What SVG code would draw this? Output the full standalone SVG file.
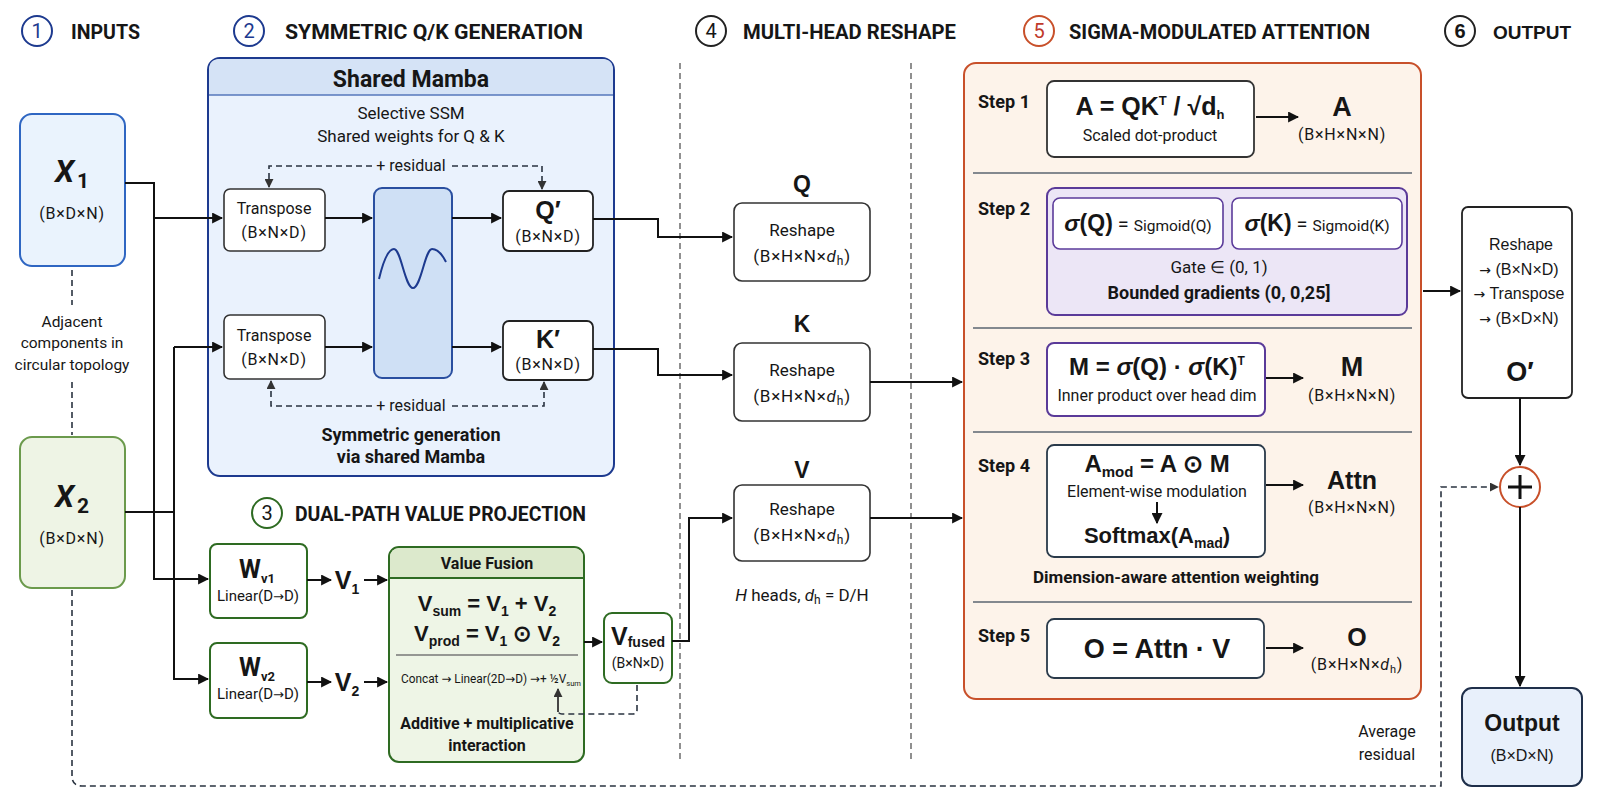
<svg xmlns="http://www.w3.org/2000/svg" width="1600" height="800" viewBox="0 0 1600 800">
<defs>
<style>
text{fill:#161616;font-family:Roboto,"Liberation Sans",Arial,sans-serif}
.a{font-family:"Liberation Sans",Arial,sans-serif}
.ar{font-family:"DejaVu Sans",sans-serif}
.b{font-weight:700}
.i{font-style:italic}
.c{text-anchor:middle}
.hdr{font-size:21px;font-weight:700}
.num{font-size:20px;text-anchor:middle}
.hc{fill:#fff;stroke-width:2}
.ln{stroke:#111;stroke-width:2;fill:none}
.dl{stroke:#2a3340;stroke-width:1.6;fill:none;stroke-dasharray:6 4}
.div{stroke:#555;stroke-width:1.3;fill:none;stroke-dasharray:6 4}
.wb{fill:#fff;stroke:#333;stroke-width:1.6}
.gb{fill:#fff;stroke:#2e6b22;stroke-width:2}
.sep{stroke:#5a6470;stroke-width:1.5}
.t14{font-size:14px}
.t15{font-size:15px}
.t16{font-size:16px}
.t17{font-size:17px}
.dim{font-size:16px;letter-spacing:0.8px}
.st{font-size:19px;font-weight:700}
</style>
<marker id="ah" viewBox="0 0 10 10" refX="9" refY="5" markerWidth="11" markerHeight="11" markerUnits="userSpaceOnUse" orient="auto"><path d="M0,0 L10,5 L0,10 z" fill="#111"/></marker>
<marker id="as" viewBox="0 0 10 10" refX="9" refY="5" markerWidth="9" markerHeight="9" markerUnits="userSpaceOnUse" orient="auto"><path d="M0,0 L10,5 L0,10 z" fill="#333"/></marker>
</defs>
<rect width="1600" height="800" fill="#fff"/>

<!-- headers -->
<g id="header1"><circle cx="37" cy="31" r="15" class="hc" stroke="#1d3a8f"/><text x="37" y="38" class="num" style="fill:#1d3a8f">1</text><text x="71" y="39" class="hdr" textLength="69" lengthAdjust="spacingAndGlyphs">INPUTS</text></g>
<g id="header2"><circle cx="249" cy="31" r="15" class="hc" stroke="#1d3a8f"/><text x="249" y="38" class="num" style="fill:#1d3a8f">2</text><text x="285" y="39" class="hdr" textLength="298" lengthAdjust="spacingAndGlyphs">SYMMETRIC Q/K GENERATION</text></g>
<g id="header3"><circle cx="267" cy="513" r="15" class="hc" stroke="#2e6b22"/><text x="267" y="520" class="num">3</text><text x="295" y="521" class="hdr" textLength="291" lengthAdjust="spacingAndGlyphs">DUAL-PATH VALUE PROJECTION</text></g>
<g id="header4"><circle cx="711" cy="31" r="15" class="hc" stroke="#222"/><text x="711" y="38" class="num">4</text><text x="743" y="39" class="hdr" textLength="213" lengthAdjust="spacingAndGlyphs">MULTI-HEAD RESHAPE</text></g>
<g id="header5"><circle cx="1039" cy="31" r="15" class="hc" stroke="#c8502a"/><text x="1039" y="38" class="num" style="fill:#c0392b">5</text><text x="1069" y="39" class="hdr" textLength="301" lengthAdjust="spacingAndGlyphs">SIGMA-MODULATED ATTENTION</text></g>
<g id="header6"><circle cx="1460" cy="31" r="15" class="hc" stroke="#222"/><text x="1460" y="38" class="num a b">6</text><text x="1493" y="39" class="a b" font-size="19">OUTPUT</text></g>

<!-- dividers -->
<g id="dividers"><path d="M680,63 V760 M911,63 V760" class="div"/></g>

<!-- inputs -->
<g id="x1"><rect x="20" y="114" width="105" height="152" rx="12" fill="#eaf3fd" stroke="#2f66c2" stroke-width="2"/><text x="72" y="182" class="c b i" font-size="31">X<tspan font-size="21" font-style="normal" dx="3" dy="6">1</tspan></text><text x="72" y="219" class="c dim" font-size="17">(B×D×N)</text></g>
<g id="adjacent"><path d="M72,270 V305 M72,382 V435" class="dl"/><text x="72" y="327" class="c" font-size="15.5">Adjacent</text><text x="72" y="348" class="c" font-size="15.5">components in</text><text x="72" y="370" class="c" font-size="15.5">circular topology</text></g>
<g id="x2"><rect x="20" y="437" width="105" height="151" rx="12" fill="#eef4e5" stroke="#6b9a4c" stroke-width="2"/><text x="72" y="507" class="c b i" font-size="31">X<tspan font-size="21" font-style="normal" dx="3" dy="6">2</tspan></text><text x="72" y="544" class="c dim">(B×D×N)</text></g>

<!-- shared mamba -->
<g id="shared-mamba">
<rect x="208" y="58" width="406" height="418" rx="12" fill="#eaf2fd" stroke="#1d3a8f" stroke-width="2"/>
<path d="M209,95 V70 Q209,59 220,59 H602 Q613,59 613,70 V95 Z" fill="#d5e3f6"/>
<line x1="209" y1="95" x2="613" y2="95" stroke="#5577bb" stroke-width="1.5"/>
<text x="411" y="87" class="c b" font-size="23">Shared Mamba</text>
<text x="411" y="119" class="c t17">Selective SSM</text>
<text x="411" y="142" class="c t17">Shared weights for Q &amp; K</text>
<text x="411" y="171" class="c t16">+ residual</text>
<text x="411" y="411" class="c t16">+ residual</text>
<text x="411" y="441" class="c b" font-size="18">Symmetric generation</text>
<text x="411" y="463" class="c b" font-size="18">via shared Mamba</text>
</g>
<g id="transpose1"><rect x="224" y="189" width="101" height="62" rx="6" class="wb"/><text x="274" y="214" class="c t16">Transpose</text><text x="274" y="238" class="c dim">(B×N×D)</text></g>
<g id="transpose2"><rect x="224" y="315" width="101" height="64" rx="6" class="wb"/><text x="274" y="341" class="c t16">Transpose</text><text x="274" y="365" class="c dim">(B×N×D)</text></g>
<g id="mamba-block"><rect x="374" y="188" width="78" height="190" rx="8" fill="#cfe0f5" stroke="#2a4fa0" stroke-width="2"/><path d="M379,279 C384,258 389,249 394,249 C401,249 405,288 413,288 C421,288 425,249 432,249 C438,249 443,256 446,262" fill="none" stroke="#1d3a8f" stroke-width="2"/></g>
<g id="qprime"><rect x="503" y="191" width="90" height="60" rx="6" fill="#fff" stroke="#222" stroke-width="1.8"/><text x="548" y="219" class="c b a" font-size="25">Q′</text><text x="548" y="242" class="c dim">(B×N×D)</text></g>
<g id="kprime"><rect x="503" y="321" width="90" height="59" rx="6" fill="#fff" stroke="#222" stroke-width="1.8"/><text x="548" y="348" class="c b a" font-size="25">K′</text><text x="548" y="370" class="c dim">(B×N×D)</text></g>

<!-- value projection -->
<g id="wv1"><rect x="210" y="544" width="97" height="74" rx="7" class="gb"/><text x="257" y="578" class="c b" font-size="25">W<tspan font-size="13" dy="5">v1</tspan></text><text x="258" y="601" class="c t15">Linear(D<tspan class="ar" font-size="13">→</tspan>D)</text></g>
<g id="wv2"><rect x="210" y="643" width="97" height="75" rx="7" class="gb"/><text x="257" y="676" class="c b" font-size="25">W<tspan font-size="13" dy="5">v2</tspan></text><text x="258" y="699" class="c t15">Linear(D<tspan class="ar" font-size="13">→</tspan>D)</text></g>
<g id="v1"><text x="347" y="589" class="c b a" font-size="25">V<tspan font-size="14" dy="5">1</tspan></text></g>
<g id="v2"><text x="347" y="691" class="c b a" font-size="25">V<tspan font-size="14" dy="5">2</tspan></text></g>
<g id="value-fusion">
<rect x="389" y="547" width="195" height="215" rx="10" fill="#eef5e6" stroke="#2e6b22" stroke-width="2"/>
<path d="M390,578 V558 Q390,548 400,548 H573 Q583,548 583,558 V578 Z" fill="#dce9cc"/>
<line x1="390" y1="578" x2="583" y2="578" stroke="#2e6b22" stroke-width="1.8"/>
<text x="487" y="569" class="c b t16">Value Fusion</text>
<text x="487" y="611" class="c b a" font-size="22">V<tspan font-size="14" dy="5">sum</tspan><tspan dy="-5"> = V</tspan><tspan font-size="14" dy="5">1</tspan><tspan dy="-5"> + V</tspan><tspan font-size="14" dy="5">2</tspan></text>
<text x="487" y="641" class="c b a" font-size="22">V<tspan font-size="14" dy="5">prod</tspan><tspan dy="-5"> = V</tspan><tspan font-size="14" dy="5">1</tspan><tspan dy="-5"> ⊙ V</tspan><tspan font-size="14" dy="5">2</tspan></text>
<line x1="396" y1="655" x2="578" y2="655" stroke="#777" stroke-width="1.3"/>
<text x="401" y="683" font-size="12.5" textLength="180" lengthAdjust="spacingAndGlyphs">Concat <tspan class="ar">→</tspan> Linear(2D<tspan class="ar">→</tspan>D) <tspan class="ar">→</tspan>+ ½V<tspan font-size="8" dy="3">sum</tspan></text>
<text x="487" y="729" class="c b t16">Additive + multiplicative</text>
<text x="487" y="751" class="c b t16">interaction</text>
</g>
<g id="vfused"><rect x="604" y="613" width="68" height="70" rx="8" class="gb"/><text x="638" y="645" class="c b a" font-size="25">V<tspan font-size="14" dy="2">fused</tspan></text><text x="638" y="668" class="c" font-size="14">(B×N×D)</text></g>

<!-- multi-head reshape -->
<g id="reshape-q"><text x="802" y="192" class="c b a" font-size="23">Q</text><rect x="734" y="203" width="136" height="78" rx="8" class="wb"/><text x="802" y="236" class="c t17">Reshape</text><text x="802" y="262" class="c t17" letter-spacing="0.8">(B×H×N×<tspan font-style="italic">d</tspan><tspan font-size="12" dy="3">h</tspan><tspan dy="-3">)</tspan></text></g>
<g id="reshape-k"><text x="802" y="332" class="c b a" font-size="23">K</text><rect x="734" y="343" width="136" height="78" rx="8" class="wb"/><text x="802" y="376" class="c t17">Reshape</text><text x="802" y="402" class="c t17" letter-spacing="0.8">(B×H×N×<tspan font-style="italic">d</tspan><tspan font-size="12" dy="3">h</tspan><tspan dy="-3">)</tspan></text></g>
<g id="reshape-v"><text x="802" y="478" class="c b a" font-size="23">V</text><rect x="734" y="485" width="136" height="76" rx="8" class="wb"/><text x="802" y="515" class="c t17">Reshape</text><text x="802" y="541" class="c t17" letter-spacing="0.8">(B×H×N×<tspan font-style="italic">d</tspan><tspan font-size="12" dy="3">h</tspan><tspan dy="-3">)</tspan></text></g>
<g id="heads-note"><text x="802" y="601" class="c t17"><tspan font-style="italic">H</tspan> heads, <tspan font-style="italic">d</tspan><tspan font-size="12" dy="3">h</tspan><tspan dy="-3"> = D/H</tspan></text></g>

<!-- sigma-modulated attention -->
<g id="attention-panel">
<rect x="964" y="63" width="457" height="636" rx="12" fill="#fdf3ea" stroke="#c8502a" stroke-width="2"/>
<line x1="973" y1="173" x2="1412" y2="173" class="sep"/>
<line x1="973" y1="328" x2="1412" y2="328" class="sep"/>
<line x1="973" y1="432" x2="1412" y2="432" class="sep"/>
<line x1="973" y1="602" x2="1412" y2="602" class="sep"/>
</g>
<g id="step1">
<text x="978" y="108" class="st" textLength="52" lengthAdjust="spacingAndGlyphs">Step 1</text>
<rect x="1047" y="81" width="207" height="76" rx="7" fill="#fff" stroke="#333" stroke-width="1.8"/>
<text x="1150" y="115" class="c b a" font-size="25">A = QK<tspan font-size="13" dy="-10">T</tspan><tspan dy="10"> / √d</tspan><tspan font-size="13" dy="4">h</tspan></text>
<text x="1150" y="141" class="c t16">Scaled dot-product</text>
<text x="1342" y="116" class="c b a" font-size="27">A</text>
<text x="1342" y="140" class="c dim">(B×H×N×N)</text>
</g>
<g id="step2">
<text x="978" y="215" class="st" textLength="52" lengthAdjust="spacingAndGlyphs">Step 2</text>
<rect x="1047" y="188" width="360" height="127" rx="8" fill="#ece6f6" stroke="#5a3a99" stroke-width="2"/>
<rect x="1053" y="198" width="170" height="51" rx="7" fill="#fff" stroke="#5b3b9a" stroke-width="1.6"/>
<rect x="1232" y="198" width="170" height="51" rx="7" fill="#fff" stroke="#5b3b9a" stroke-width="1.6"/>
<text x="1138" y="231" class="c"><tspan class="b a" font-size="23"><tspan font-style="italic">σ</tspan>(Q)</tspan><tspan font-size="20"> = </tspan><tspan font-size="15.5">Sigmoid(Q)</tspan></text>
<text x="1317" y="231" class="c"><tspan class="b a" font-size="23"><tspan font-style="italic">σ</tspan>(K)</tspan><tspan font-size="20"> = </tspan><tspan font-size="15.5">Sigmoid(K)</tspan></text>
<text x="1219" y="273" class="c t17">Gate ∈ (0, 1)</text>
<text x="1219" y="299" class="c b" font-size="18">Bounded gradients (0, 0,25]</text>
</g>
<g id="step3">
<text x="978" y="365" class="st" textLength="52" lengthAdjust="spacingAndGlyphs">Step 3</text>
<rect x="1047" y="343" width="218" height="73" rx="7" fill="#fff" stroke="#5a3a99" stroke-width="2"/>
<text x="1157" y="375" class="c b a" font-size="24">M = <tspan font-style="italic">σ</tspan>(Q) · <tspan font-style="italic">σ</tspan>(K)<tspan font-size="12" dy="-10">T</tspan></text>
<text x="1157" y="401" class="c t16">Inner product over head dim</text>
<text x="1352" y="376" class="c b a" font-size="27">M</text>
<text x="1352" y="401" class="c dim">(B×H×N×N)</text>
</g>
<g id="step4">
<text x="978" y="472" class="st" textLength="52" lengthAdjust="spacingAndGlyphs">Step 4</text>
<rect x="1047" y="445" width="218" height="112" rx="7" fill="#fff" stroke="#2a3a4a" stroke-width="1.8"/>
<text x="1157" y="472" class="c b a" font-size="24">A<tspan font-size="15" dy="5">mod</tspan><tspan dy="-5"> = A ⊙ M</tspan></text>
<text x="1157" y="497" class="c t16">Element-wise modulation</text>
<text x="1157" y="543" class="c b a" font-size="22">Softmax(A<tspan font-size="14" dy="5">mad</tspan><tspan dy="-5">)</tspan></text>
<text x="1352" y="489" class="c b a" font-size="25">Attn</text>
<text x="1352" y="513" class="c dim">(B×H×N×N)</text>
<text x="1176" y="583" class="c b" font-size="17">Dimension-aware attention weighting</text>
</g>
<g id="step5">
<text x="978" y="642" class="st" textLength="52" lengthAdjust="spacingAndGlyphs">Step 5</text>
<rect x="1047" y="619" width="217" height="59" rx="7" fill="#fff" stroke="#2a3a4a" stroke-width="1.8"/>
<text x="1157" y="658" class="c b a" font-size="27">O = Attn · V</text>
<text x="1357" y="646" class="c b a" font-size="25">O</text>
<text x="1357" y="670" class="c dim">(B×H×N×<tspan font-style="italic">d</tspan><tspan font-size="11" dy="3">h</tspan><tspan dy="-3">)</tspan></text>
</g>

<!-- output -->
<g id="oprime"><rect x="1462" y="207" width="110" height="191" rx="6" fill="#fff" stroke="#222" stroke-width="1.8"/>
<text x="1521" y="250" class="c a t16">Reshape</text>
<text x="1519" y="275" class="c a t16"><tspan class="ar" font-size="14">→</tspan> (B×N×D)</text>
<text x="1519" y="299" class="c a t16"><tspan class="ar" font-size="14">→</tspan> Transpose</text>
<text x="1519" y="324" class="c a t16"><tspan class="ar" font-size="14">→</tspan> (B×D×N)</text>
<text x="1520" y="381" class="c b a" font-size="27">O′</text></g>
<g id="plus"><circle cx="1520" cy="487" r="20" fill="#fff" stroke="#c8502a" stroke-width="2"/><path d="M1508,487 H1532 M1520,475 V499" stroke="#111" stroke-width="3"/></g>
<g id="output"><rect x="1462" y="688" width="120" height="98" rx="10" fill="#e8f0fb" stroke="#1f2f4a" stroke-width="2"/><text x="1522" y="731" class="c b a" font-size="23">Output</text><text x="1522" y="761" class="c a t16">(B×D×N)</text></g>
<g id="avg-label"><text x="1387" y="737" class="c t16">Average</text><text x="1387" y="760" class="c t16">residual</text></g>

<!-- connectors -->
<g id="connectors">
<path d="M125,183 H154 V579 H208" class="ln" marker-end="url(#ah)"/>
<path d="M154,218 H222" class="ln" marker-end="url(#ah)"/>
<path d="M125,512 H174"  class="ln"/>
<path d="M174,347 V679 H208" class="ln" marker-end="url(#ah)"/>
<path d="M174,347 H222" class="ln" marker-end="url(#ah)"/>
<path d="M325,218 H372" class="ln" marker-end="url(#ah)"/>
<path d="M325,347 H372" class="ln" marker-end="url(#ah)"/>
<path d="M452,218 H501" class="ln" marker-end="url(#ah)"/>
<path d="M452,347 H501" class="ln" marker-end="url(#ah)"/>
<path d="M593,219 H658 V237 H732" class="ln" marker-end="url(#ah)"/>
<path d="M593,349 H658 V375 H732" class="ln" marker-end="url(#ah)"/>
<path d="M870,382 H962" class="ln" marker-end="url(#ah)"/>
<path d="M870,518 H962" class="ln" marker-end="url(#ah)"/>
<path d="M672,641 H689 V518 H732" class="ln" marker-end="url(#ah)"/>
<path d="M307,580 H331" class="ln" marker-end="url(#ah)"/>
<path d="M364,580 H387" class="ln" marker-end="url(#ah)"/>
<path d="M307,682 H331" class="ln" marker-end="url(#ah)"/>
<path d="M364,682 H387" class="ln" marker-end="url(#ah)"/>
<path d="M584,642 H602" class="ln" marker-end="url(#ah)"/>
<path d="M1256,117 H1298" class="ln" marker-end="url(#ah)"/>
<path d="M1266,378 H1303" class="ln" marker-end="url(#ah)"/>
<path d="M1266,485 H1303" class="ln" marker-end="url(#ah)"/>
<path d="M1266,648 H1303" class="ln" marker-end="url(#ah)"/>
<path d="M1157,502 V523" class="ln" marker-end="url(#ah)"/>
<path d="M1423,291 H1460" class="ln" marker-end="url(#ah)"/>
<path d="M1520,398 V465" class="ln" marker-end="url(#ah)"/>
<path d="M1520,507 V686" class="ln" marker-end="url(#ah)"/>
<path d="M372,166 H269 V187" class="dl" marker-end="url(#as)"/>
<path d="M452,166 H542 V189" class="dl" marker-end="url(#as)"/>
<path d="M372,406 H271 V381" class="dl" marker-end="url(#as)"/>
<path d="M452,406 H544 V382" class="dl" marker-end="url(#as)"/>
<path d="M637,685 V710 Q637,714 633,714 H562 Q558,714 558,710" class="dl"/>
<path d="M558,712 V689" stroke="#333" stroke-width="1.8" fill="none" marker-end="url(#as)"/>
<path d="M72,590 V776 Q72,786 82,786 H1441 V487 H1498" class="dl" marker-end="url(#as)"/>
</g>
</svg>
